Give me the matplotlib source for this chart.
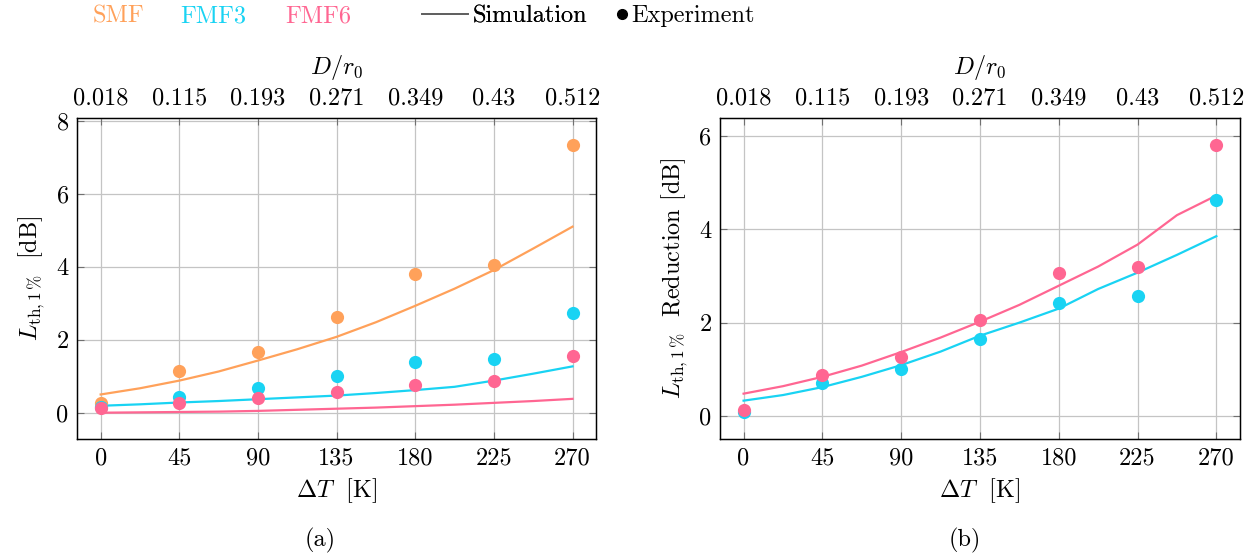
import numpy as np
import matplotlib
matplotlib.use("Agg")
import matplotlib.pyplot as plt
from matplotlib.lines import Line2D

plt.rcParams['font.family'] = ['cmr10', 'DejaVu Serif']
plt.rcParams['mathtext.fontset'] = 'cm'
plt.rcParams['axes.unicode_minus'] = False
plt.rcParams['axes.formatter.use_mathtext'] = True

# temperature steps and matching D/r0 labels
delta_t = [0, 45, 90, 135, 180, 225, 270]
d_r0_labels = ['0.018', '0.115', '0.193', '0.271', '0.349', '0.43', '0.512']

# experiment points, panel (a)
exp_smf = [0.27, 1.14, 1.67, 2.62, 3.81, 4.04, 7.33]
exp_fmf3 = [0.16, 0.44, 0.67, 1.00, 1.40, 1.47, 2.72]
exp_fmf6 = [0.12, 0.27, 0.41, 0.57, 0.75, 0.87, 1.56]

# simulation curves, panel (a)
sim_t = [0, 22.5, 45, 67.5, 90, 112.5, 135, 157.5, 180, 202.5, 225, 247.5, 270]
sim_smf = [0.50, 0.67, 0.88, 1.13, 1.43, 1.74, 2.08, 2.48, 2.93, 3.40, 3.91, 4.50, 5.10]
sim_fmf3 = [0.19, 0.23, 0.28, 0.32, 0.37, 0.42, 0.47, 0.54, 0.62, 0.71, 0.88, 1.07, 1.27]
sim_fmf6 = [0.00, 0.01, 0.02, 0.03, 0.05, 0.08, 0.11, 0.14, 0.18, 0.22, 0.27, 0.32, 0.38]

# panel (b): reduction
red_exp_fmf3 = [0.09, 0.71, 1.01, 1.64, 2.43, 2.57, 4.63]
red_exp_fmf6 = [0.12, 0.87, 1.26, 2.06, 3.07, 3.19, 5.80]
red_sim_fmf3 = [0.33, 0.45, 0.62, 0.84, 1.09, 1.38, 1.72, 2.00, 2.30, 2.72, 3.07, 3.45, 3.85]
red_sim_fmf6 = [0.48, 0.64, 0.84, 1.08, 1.37, 1.68, 2.02, 2.38, 2.79, 3.20, 3.67, 4.30, 4.72]

C_SMF = '#FFA15A'
C_FMF3 = '#19D3F3'
C_FMF6 = '#FF6692'
FS = 17.5


def style_axes(ax, ylim, yticks, ylabel):
    ax.set_xlim(-13.5, 283.5)
    ax.set_ylim(*ylim)
    ax.set_xticks(delta_t)
    ax.set_xticklabels([str(t) for t in delta_t], fontsize=FS)
    ax.set_yticks(yticks)
    ax.set_yticklabels([str(v) for v in yticks], fontsize=FS)
    ax.grid(True, color='#c4c4c4', lw=0.9)
    ax.set_axisbelow(True)
    ax.tick_params(direction='in', length=5, color='#707070', right=True, pad=6)
    for sp in ax.spines.values():
        sp.set_linewidth(1.0)
    ax.set_xlabel(r'$\Delta T\ $ [K]', fontsize=FS, labelpad=5)
    ax.set_ylabel(ylabel, fontsize=FS, labelpad=7)
    top = ax.twiny()
    top.set_xlim(ax.get_xlim())
    top.set_xticks(delta_t)
    top.set_xticklabels(d_r0_labels, fontsize=FS)
    top.tick_params(direction='in', length=5, color='#707070', pad=6)
    top.set_xlabel(r'$D/r_0$', fontsize=FS, labelpad=10)


fig = plt.figure(figsize=(12.51, 5.58), dpi=100)
ax1 = fig.add_axes([0.0616, 0.2133, 0.4149, 0.5753])
ax2 = fig.add_axes([0.5755, 0.2133, 0.4157, 0.5753])

lw = 1.6
ms = 9.5
ax1.plot(sim_t, sim_smf, color=C_SMF, lw=lw)
ax1.plot(sim_t, sim_fmf3, color=C_FMF3, lw=lw)
ax1.plot(sim_t, sim_fmf6, color=C_FMF6, lw=lw)
ax1.plot(delta_t, exp_smf, 'o', color=C_SMF, ms=ms, mec='none')
ax1.plot(delta_t, exp_fmf3, 'o', color=C_FMF3, ms=ms, mec='none')
ax1.plot(delta_t, exp_fmf6, 'o', color=C_FMF6, ms=ms, mec='none')
style_axes(ax1, (-0.72, 8.08), [0, 2, 4, 6, 8], r'$L_{\mathrm{th},1\,\%}\ $ [dB]')

ax2.plot(sim_t, red_sim_fmf3, color=C_FMF3, lw=lw)
ax2.plot(sim_t, red_sim_fmf6, color=C_FMF6, lw=lw)
ax2.plot(delta_t, red_exp_fmf3, 'o', color=C_FMF3, ms=ms, mec='none')
ax2.plot(delta_t, red_exp_fmf6, 'o', color=C_FMF6, ms=ms, mec='none')
style_axes(ax2, (-0.49, 6.38), [0, 2, 4, 6], r'$L_{\mathrm{th},1\,\%}\ $ Reduction [dB]')

# captions
fig.text(0.256, 0.032, '(a)', ha='center', va='center', fontsize=FS)
fig.text(0.771, 0.032, '(b)', ha='center', va='center', fontsize=FS)

# top legend
fig.text(0.074, 0.971, 'SMF', color=C_SMF, fontsize=FS, va='center')
fig.text(0.144, 0.971, 'FMF3', color=C_FMF3, fontsize=FS, va='center')
fig.text(0.228, 0.971, 'FMF6', color=C_FMF6, fontsize=FS, va='center')
leg1 = fig.legend([Line2D([], [], color='#606060', lw=1.3)], ['Simulation'],
                  loc='center left', bbox_to_anchor=(0.337, 0.971), frameon=False,
                  fontsize=FS, handlelength=1.9, handletextpad=0.2,
                  borderaxespad=0, borderpad=0)
fig.add_artist(leg1)
fig.legend([Line2D([], [], ls='none', marker='o', color='black', ms=7)], ['Experiment'],
           loc='center left', bbox_to_anchor=(0.492, 0.971), frameon=False,
           fontsize=FS, handlelength=0.5, handletextpad=0.15,
           borderaxespad=0, borderpad=0)

fig.savefig('out.png', dpi=100)
